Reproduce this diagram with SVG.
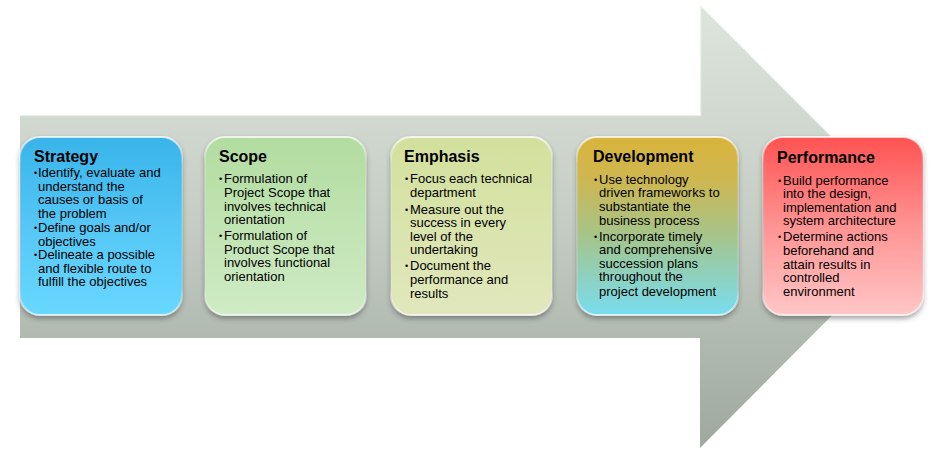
<svg xmlns="http://www.w3.org/2000/svg" width="931" height="452" viewBox="0 0 931 452">
  <defs>
    <linearGradient id="arrowFill" gradientUnits="userSpaceOnUse" x1="0" y1="5" x2="0" y2="448">
      <stop offset="0" stop-color="#dde5dd"/>
      <stop offset="0.5" stop-color="#c4ccc4"/>
      <stop offset="1" stop-color="#9ea89e"/>
    </linearGradient>
    <linearGradient id="gStrategy" x1="0" y1="0" x2="0" y2="1">
      <stop offset="0" stop-color="#38b4ea"/>
      <stop offset="0.5" stop-color="#55c7f6"/>
      <stop offset="1" stop-color="#68d8ff"/>
    </linearGradient>
    <linearGradient id="gScope" x1="0" y1="0" x2="0" y2="1">
      <stop offset="0" stop-color="#b2dca0"/>
      <stop offset="1" stop-color="#cfebc5"/>
    </linearGradient>
    <linearGradient id="gEmphasis" x1="0" y1="0" x2="0" y2="1">
      <stop offset="0" stop-color="#d2e09c"/>
      <stop offset="1" stop-color="#e1e7bd"/>
    </linearGradient>
    <linearGradient id="gDevelopment" x1="0" y1="0" x2="0" y2="1">
      <stop offset="0" stop-color="#dab43a"/>
      <stop offset="0.25" stop-color="#cdb752"/>
      <stop offset="0.55" stop-color="#a6c48a"/>
      <stop offset="1" stop-color="#78ddf0"/>
    </linearGradient>
    <linearGradient id="gPerformance" x1="0" y1="0" x2="0" y2="1">
      <stop offset="0" stop-color="#ff5252"/>
      <stop offset="0.5" stop-color="#ff9393"/>
      <stop offset="1" stop-color="#ffc6c6"/>
    </linearGradient>
    <linearGradient id="gloss" x1="0" y1="0" x2="0" y2="1">
      <stop offset="0" stop-color="#ffffff" stop-opacity="0.75"/>
      <stop offset="0.15" stop-color="#ffffff" stop-opacity="0.15"/>
      <stop offset="0.85" stop-color="#ffffff" stop-opacity="0.1"/>
      <stop offset="1" stop-color="#ffffff" stop-opacity="0.7"/>
    </linearGradient>
    <filter id="cardShadow" x="-10%" y="-10%" width="120%" height="125%">
      <feDropShadow dx="0" dy="3" stdDeviation="2.5" flood-color="#333" flood-opacity="0.45"/>
    </filter>
  </defs>
  <style>
    .card { stroke: url(#gloss); stroke-width: 2; filter: url(#cardShadow); }
    .title { font-family: "Liberation Sans", Arial, sans-serif; font-weight: bold; font-size: 16px; fill: #000; }
    .body { font-family: "Liberation Sans", Arial, sans-serif; font-size: 13px; fill: #000; }
    .dot { font-family: "Liberation Sans", Arial, sans-serif; font-size: 9px; fill: #000; }
  </style>

  <rect width="931" height="452" fill="#ffffff"/>

  <!-- big block arrow behind the cards -->
  <g id="arrow">
    <path d="M20 115 H700 V5 L921 226 L700 448 V338 H20 Z" fill="url(#arrowFill)"/>
    <path d="M20 115.5 H700.5 V5 L921 226" fill="none" stroke="#ffffff" stroke-opacity="0.55" stroke-width="1.5"/>
  </g>

  <g id="connectors"></g>

  <g id="strategy">
    <rect class="card" x="20" y="137" width="162" height="178" rx="20" fill="url(#gStrategy)"/>
    <text class="title" x="34" y="162">Strategy</text>
    <text class="dot" x="34" y="176">•</text>
    <text class="body" x="38" y="177">Identify, evaluate  and</text>
    <text class="body" x="38" y="190.5">understand the</text>
    <text class="body" x="38" y="204">causes or basis of</text>
    <text class="body" x="38" y="217.5">the problem</text>
    <text class="dot" x="34" y="231">•</text>
    <text class="body" x="38" y="232">Define goals and/or</text>
    <text class="body" x="38" y="245.5">objectives</text>
    <text class="dot" x="34" y="258">•</text>
    <text class="body" x="38" y="259">Delineate a possible</text>
    <text class="body" x="38" y="272.5">and flexible route to</text>
    <text class="body" x="38" y="286">fulfill the objectives</text>
  </g>

  <g id="scope">
    <rect class="card" x="205" y="137" width="161" height="178" rx="20" fill="url(#gScope)"/>
    <text class="title" x="219" y="162">Scope</text>
    <text class="dot" x="219" y="182">•</text>
    <text class="body" x="224" y="183">Formulation  of</text>
    <text class="body" x="224" y="197">Project Scope that</text>
    <text class="body" x="224" y="210.5">involves  technical</text>
    <text class="body" x="224" y="224">orientation</text>
    <text class="dot" x="219" y="239">•</text>
    <text class="body" x="224" y="240">Formulation  of</text>
    <text class="body" x="224" y="253.5">Product  Scope that</text>
    <text class="body" x="224" y="267">involves  functional</text>
    <text class="body" x="224" y="281">orientation</text>
  </g>

  <g id="emphasis">
    <rect class="card" x="391" y="137" width="161" height="178" rx="20" fill="url(#gEmphasis)"/>
    <text class="title" x="404" y="162">Emphasis</text>
    <text class="dot" x="405" y="182">•</text>
    <text class="body" x="410" y="183">Focus each technical</text>
    <text class="body" x="410" y="197">department</text>
    <text class="dot" x="405" y="212.5">•</text>
    <text class="body" x="410" y="213.5">Measure  out the</text>
    <text class="body" x="410" y="227">success in every</text>
    <text class="body" x="410" y="240.5">level  of the</text>
    <text class="body" x="410" y="254">undertaking</text>
    <text class="dot" x="405" y="269">•</text>
    <text class="body" x="410" y="270">Document the</text>
    <text class="body" x="410" y="284">performance  and</text>
    <text class="body" x="410" y="298">results</text>
  </g>

  <g id="development">
    <rect class="card" x="577" y="137" width="161" height="178" rx="20" fill="url(#gDevelopment)"/>
    <text class="title" x="593" y="162">Development</text>
    <text class="dot" x="594" y="182.5">•</text>
    <text class="body" x="599" y="183.5">Use technology</text>
    <text class="body" x="599" y="197">driven  frameworks  to</text>
    <text class="body" x="599" y="210.5">substantiate the</text>
    <text class="body" x="599" y="224.5">business process</text>
    <text class="dot" x="594" y="239.5">•</text>
    <text class="body" x="599" y="240.5">Incorporate  timely</text>
    <text class="body" x="599" y="254">and comprehensive</text>
    <text class="body" x="599" y="267.5">succession plans</text>
    <text class="body" x="599" y="281">throughout  the</text>
    <text class="body" x="599" y="295.5">project development</text>
  </g>

  <g id="performance">
    <rect class="card" x="763" y="137" width="160" height="178" rx="20" fill="url(#gPerformance)"/>
    <text class="title" x="777" y="163">Performance</text>
    <text class="dot" x="778" y="183.5">•</text>
    <text class="body" x="783" y="184.5">Build performance</text>
    <text class="body" x="783" y="198">into the design,</text>
    <text class="body" x="783" y="211.5">implementation  and</text>
    <text class="body" x="783" y="225">system architecture</text>
    <text class="dot" x="778" y="240">•</text>
    <text class="body" x="783" y="241">Determine  actions</text>
    <text class="body" x="783" y="254.5">beforehand  and</text>
    <text class="body" x="783" y="268.5">attain results in</text>
    <text class="body" x="783" y="282">controlled</text>
    <text class="body" x="783" y="296">environment</text>
  </g>
</svg>
